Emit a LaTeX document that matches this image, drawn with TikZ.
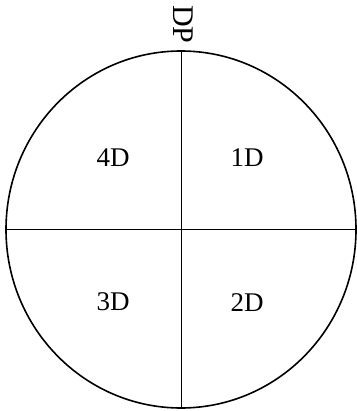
\documentclass[tikz,border=0pt]{standalone}
\usepackage{fontspec}
\setmainfont{Liberation Serif}
\usetikzlibrary{shapes.geometric}
\tikzset{every picture/.style={line width=0.9pt}}

\begin{document}
\begin{tikzpicture}[x=1pt, y=1pt, every node/.style={font=\fontsize{27}{27}\selectfont}]
        \useasboundingbox (0, 0) rectangle (356, -411);
        \node[ellipse, draw, line width=1.6pt, minimum width=350pt, minimum height=357pt, inner sep=0pt] (disc) at (181, -229.5) {};
        % kwadranty
        \draw (disc.north) -- (disc.south);
        \draw (disc.west) -- (disc.east);
        % etykiety
        \node[rotate=-90, font=\fontsize{30}{30}\selectfont] (dp) at (183.5, -24.5) {DP};
        \node (q4) at (113, -158) {4D};
        \node (q1) at (247, -158) {1D};
        \node (q3) at (113, -302) {3D};
        \node (q2) at (247, -303) {2D};
    \end{tikzpicture}
\end{document}
